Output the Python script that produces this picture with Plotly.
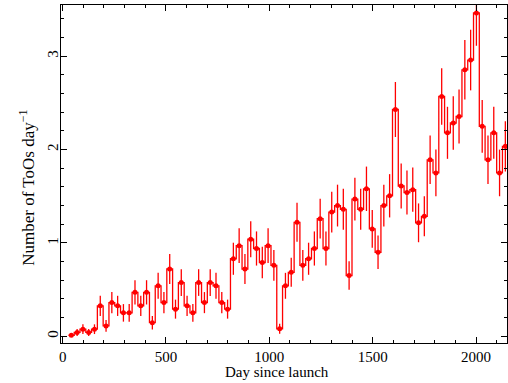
import plotly.graph_objects as go

BIN = 28  # bin width in days

days = [42, 70, 98, 126, 154, 182, 210, 238, 266, 294,
        322, 350, 378, 406, 434, 462, 490, 518, 546, 574,
        602, 630, 658, 686, 714, 742, 770, 798, 826, 854,
        882, 910, 938, 966, 994, 1022, 1050, 1078, 1106, 1134,
        1162, 1190, 1218, 1246, 1274, 1302, 1330, 1358, 1386, 1414,
        1442, 1470, 1498, 1526, 1554, 1582, 1610, 1638, 1666, 1694,
        1722, 1750, 1778, 1806, 1834, 1862, 1890, 1918, 1946, 1974,
        2002, 2030, 2058, 2086, 2114, 2142]

rate = [0.01, 0.04, 0.075, 0.04, 0.075, 0.325, 0.11, 0.36, 0.325, 0.25,
        0.25, 0.47, 0.325, 0.47, 0.145, 0.54, 0.36, 0.72, 0.29, 0.575,
        0.325, 0.25, 0.575, 0.36, 0.575, 0.54, 0.36, 0.29, 0.83, 0.97,
        0.72, 1.04, 0.94, 0.79, 0.97, 0.76, 0.08, 0.54, 0.685, 1.22,
        0.76, 0.83, 0.94, 1.26, 0.94, 1.33, 1.40, 1.36, 0.65, 1.47,
        1.36, 1.58, 1.15, 0.90, 1.40, 1.505, 2.43, 1.61, 1.54, 1.57,
        1.215, 1.285, 1.89, 1.75, 2.57, 2.18, 2.285, 2.355, 2.855, 2.96,
        3.465, 2.25, 1.89, 2.18, 1.75, 2.035]

rate_err = [0.02, 0.038, 0.052, 0.038, 0.052, 0.108, 0.063, 0.113, 0.108, 0.094,
            0.094, 0.13, 0.108, 0.13, 0.072, 0.139, 0.113, 0.16, 0.102, 0.143,
            0.108, 0.094, 0.143, 0.113, 0.143, 0.139, 0.113, 0.102, 0.172, 0.186,
            0.16, 0.193, 0.183, 0.168, 0.186, 0.165, 0.053, 0.139, 0.156, 0.209,
            0.165, 0.172, 0.183, 0.212, 0.183, 0.218, 0.224, 0.22, 0.152, 0.229,
            0.22, 0.238, 0.203, 0.179, 0.224, 0.232, 0.295, 0.24, 0.235, 0.237,
            0.208, 0.214, 0.26, 0.25, 0.303, 0.279, 0.286, 0.29, 0.319, 0.325,
            0.352, 0.283, 0.26, 0.279, 0.25, 0.27]

RED = "#ff0000"
FONT = "Liberation Serif, Times New Roman, serif"

edges = [d - BIN / 2 for d in days] + [days[-1] + BIN / 2]
step_y = rate + [rate[-1]]

fig = go.Figure()
fig.add_trace(go.Scatter(
    x=edges, y=step_y, mode="lines", line=dict(color=RED, width=1.3, shape="hv"),
    hoverinfo="skip", showlegend=False))
fig.add_trace(go.Scatter(
    x=days, y=rate, mode="markers",
    marker=dict(color=RED, size=5, symbol="circle"),
    error_y=dict(type="data", array=rate_err, color=RED, thickness=1.3, width=0),
    showlegend=False))

axis_common = dict(
    showline=True, linecolor="black", linewidth=1, mirror="ticks",
    ticks="inside", ticklen=6, tickwidth=1, tickcolor="black",
    showgrid=False, zeroline=False, automargin=False,
    tickfont=dict(family=FONT, size=15, color="black"),
)

fig.update_xaxes(range=[-8, 2150], dtick=500, tick0=0,
                 minor=dict(dtick=100, ticks="inside", ticklen=3, tickcolor="black"),
                 **axis_common)
fig.update_yaxes(range=[-0.073, 3.55], dtick=1, tick0=0, tickangle=-90,
                 ticklabelstandoff=-4,
                 minor=dict(dtick=0.2, ticks="inside", ticklen=3, tickcolor="black"),
                 **axis_common)

fig.add_annotation(text="Day since launch", xref="paper", yref="paper",
                   x=0.484, y=-0.087, showarrow=False,
                   font=dict(family=FONT, size=15, color="black"),
                   xanchor="center", yanchor="middle")
fig.add_annotation(text="Number of ToOs day<sup>−1</sup>", xref="paper", yref="paper",
                   x=-0.078, y=0.46, showarrow=False, textangle=-90,
                   font=dict(family=FONT, size=17, color="black"),
                   xanchor="center", yanchor="middle")

fig.update_layout(
    width=508, height=383,
    margin=dict(l=61, r=1, t=5, b=39.5),
    paper_bgcolor="white", plot_bgcolor="white",
    font=dict(family=FONT, color="black"),
)

fig.write_html("out.html", config={"displayModeBar": False},
               post_script="document.body.style.margin='0px';document.body.style.overflow='hidden';")
